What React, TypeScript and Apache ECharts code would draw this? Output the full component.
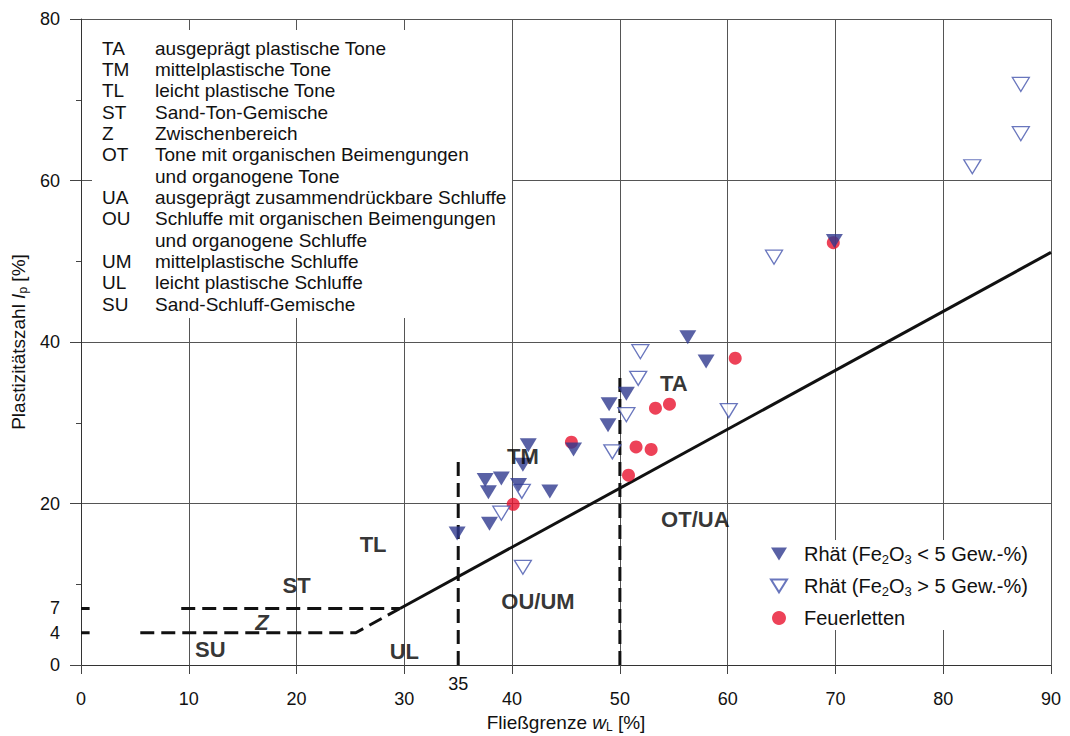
import React, { useEffect, useRef } from 'react';
import * as echarts from 'echarts';

// Axis ranges
const X_MIN = 0;
const X_MAX = 90;
const Y_MIN = 0;
const Y_MAX = 80;
const yLabelValues = [0, 4, 7, 20, 40, 60, 80];

// Series names
const LOW = 'Rhät (Fe2O3 < 5 Gew.-%)';
const HIGH = 'Rhät (Fe2O3 > 5 Gew.-%)';
const FEU = 'Feuerletten';

// Measurements [wL %, Ip %]
const rhaetLow: number[][] = [
  [34.9, 16.3], [37.5, 22.9], [37.8, 21.4], [37.9, 17.5], [39.0, 23.1],
  [40.6, 22.3], [41.0, 24.8], [41.5, 27.2], [43.5, 21.5], [45.7, 26.7],
  [48.9, 29.7], [49.0, 32.3], [50.6, 33.6], [56.3, 40.6], [58.0, 37.6],
  [69.9, 52.5],
];
const rhaetHigh: number[][] = [
  [41.0, 12.1], [39.0, 18.8], [40.9, 21.5], [49.3, 26.4], [50.6, 31.0],
  [51.7, 35.5], [51.9, 38.8], [60.1, 31.5], [64.3, 50.5], [82.7, 61.7],
  [87.2, 65.8], [87.2, 71.9],
];
const feuerletten: number[][] = [
  [40.1, 19.9], [45.5, 27.6], [50.8, 23.5], [51.5, 27.0], [52.9, 26.7],
  [53.3, 31.8], [54.6, 32.3], [60.7, 38.0], [69.8, 52.3],
];

// A-line (DIN 18196): Ip = 0.73 * (wL - 20), from Ip = 7 up to wL = 90
const aLine: number[][] = [[29.6, 7.0], [90, 51.1]];
// Boundaries of the intermediate zone Z and the wL = 35 / 50 limits
const zoneUpper: number[][] = [[9.3, 7], [29.6, 7]];
const zoneLower: number[][] = [[5.5, 4], [25.5, 4], [29.6, 7]];
const limit35: number[][] = [[35, 0], [35, 25.5]];
const limit50: number[][] = [[50, 0], [50, 36.3]];
const stub7: number[][] = [[0, 7], [0.8, 7]];
const stub4: number[][] = [[0, 4], [0.8, 4]];
const extraXTick: number[][] = [[35, 0]];

// Soil group labels placed in the chart
const zoneLabels = [
  { name: 'TA', value: [55.0, 34.9] },
  { name: 'TM', value: [41.0, 25.8] },
  { name: 'TL', value: [27.1, 14.9] },
  { name: 'ST', value: [20.0, 9.9] },
  { name: 'Z', value: [16.8, 5.3], label: { fontStyle: 'italic' } },
  { name: 'SU', value: [12.0, 1.9] },
  { name: 'UL', value: [30.0, 1.7] },
  { name: 'OU/UM', value: [42.4, 7.9] },
  { name: 'OT/UA', value: [57.0, 18.0] },
];

// Key of the soil group abbreviations
const keyCodes = ['TA', 'TM', 'TL', 'ST', 'Z', 'OT', '', 'UA', 'OU', '', 'UM', 'UL', 'SU'];
const keyTexts = [
  'ausgeprägt plastische Tone',
  'mittelplastische Tone',
  'leicht plastische Tone',
  'Sand-Ton-Gemische',
  'Zwischenbereich',
  'Tone mit organischen Beimengungen',
  'und organogene Tone',
  'ausgeprägt zusammendrückbare Schluffe',
  'Schluffe mit organischen Beimengungen',
  'und organogene Schluffe',
  'mittelplastische Schluffe',
  'leicht plastische Schluffe',
  'Sand-Schluff-Gemische',
];

const FONT = "'Liberation Sans', Arial, Helvetica, sans-serif";
const TEXT = '#111';
const NAVY = '#2f3a8e';
const BLUE_LINE = '#4454ad';
const RED = '#e8132e';
const TRI_DOWN = 'path://M0,0L20,0L10,16Z';

const legendText: Record<string, string> = {
  [LOW]: '{f|Rhät (Fe}{s|2}{n|O}{s|3}{n| < 5 Gew.-%)}',
  [HIGH]: '{f|Rhät (Fe}{s|2}{n|O}{s|3}{n| > 5 Gew.-%)}',
  [FEU]: '{f|Feuerletten}',
};

function boundary(data: number[][], dashed: boolean, width = 3) {
  return {
    type: 'line',
    data,
    symbol: 'none',
    silent: true,
    z: 3,
    lineStyle: { color: '#111', width, type: dashed ? [14, 7] : 'solid' },
  };
}

const nameRich = {
  i: { fontSize: 19, fontStyle: 'italic', color: TEXT, lineHeight: 22 },
  s: { fontSize: 12, color: TEXT, lineHeight: 12, verticalAlign: 'bottom' },
};

export default function App() {
  const ref = useRef<HTMLDivElement>(null);

  useEffect(() => {
    if (!ref.current) return;
    const chart = echarts.init(ref.current, null, { renderer: 'svg' });

    const keyElements: any[] = [
      {
        type: 'rect',
        z: 50,
        shape: { x: 92, y: 30, width: 420, height: 288 },
        style: { fill: '#fff' },
      },
    ];
    keyTexts.forEach((t, i) => {
      const y = 48 + i * 21.35;
      if (keyCodes[i]) {
        keyElements.push({
          type: 'text',
          z: 51,
          x: 102,
          y,
          style: { text: keyCodes[i], font: `19px ${FONT}`, fill: TEXT, verticalAlign: 'middle' },
        });
      }
      keyElements.push({
        type: 'text',
        z: 51,
        x: 155,
        y,
        style: { text: t, font: `19px ${FONT}`, fill: TEXT, verticalAlign: 'middle' },
      });
    });

    const option: any = {
      animation: false,
      backgroundColor: '#fff',
      textStyle: { fontFamily: FONT },
      grid: {
        left: 81,
        right: 19,
        top: 19,
        bottom: 71,
        containLabel: false,
        outerBoundsMode: 'none',
      },
      xAxis: {
        type: 'value',
        min: X_MIN,
        max: X_MAX,
        interval: 10,
        axisLine: { lineStyle: { color: '#333', width: 1 } },
        axisTick: { show: true, length: 9, lineStyle: { color: '#444' } },
        axisLabel: { fontSize: 18, color: TEXT, margin: 25 },
        splitLine: { show: true, lineStyle: { color: '#555', width: 1 } },
        name: 'Fließgrenze {i|w}{s|L} [%]',
        nameLocation: 'middle',
        nameGap: 45,
        nameTextStyle: { fontSize: 19, color: TEXT, rich: nameRich },
      },
      yAxis: {
        type: 'value',
        min: Y_MIN,
        max: Y_MAX,
        interval: 20,
        axisLine: { show: true, lineStyle: { color: '#333', width: 1 } },
        axisTick: { show: true, length: 11, lineStyle: { color: '#444' } },
        minorTick: { show: true, splitNumber: 2, length: 5, lineStyle: { color: '#444' } },
        axisLabel: { fontSize: 18, color: TEXT, margin: 21, customValues: yLabelValues },
        splitLine: { show: true, lineStyle: { color: '#555', width: 1 } },
        name: 'Plastizitätszahl {i|I}{s|p} [%]',
        nameLocation: 'middle',
        nameGap: 50,
        nameRotate: 90,
        nameTextStyle: { fontSize: 19, color: TEXT, rich: nameRich },
      },
      legend: {
        orient: 'vertical',
        left: 762,
        top: 540,
        itemWidth: 16,
        itemHeight: 14,
        itemGap: 10,
        padding: [4, 10, 2, 8],
        backgroundColor: '#fff',
        selectedMode: false,
        data: [
          { name: LOW, icon: TRI_DOWN },
          { name: HIGH, icon: TRI_DOWN },
          { name: FEU, icon: 'circle' },
        ],
        formatter: (name: string) => legendText[name] || name,
        textStyle: {
          rich: {
            f: { fontSize: 20, lineHeight: 24, color: TEXT, padding: [0, 0, 0, 12] },
            n: { fontSize: 20, lineHeight: 24, color: TEXT },
            s: { fontSize: 13, lineHeight: 13, color: TEXT, verticalAlign: 'bottom' },
          },
        },
      },
      graphic: keyElements,
      series: [
        boundary(aLine, false, 3),
        boundary(zoneUpper, true),
        boundary(zoneLower, true),
        boundary(limit35, true),
        boundary(limit50, true),
        boundary(stub7, false, 3),
        boundary(stub4, false, 3),
        {
          type: 'scatter',
          name: FEU,
          data: feuerletten,
          symbol: 'circle',
          symbolSize: 13,
          z: 4,
          itemStyle: { color: RED },
        },
        {
          type: 'scatter',
          name: HIGH,
          data: rhaetHigh,
          symbol: TRI_DOWN,
          symbolSize: [17, 14],
          z: 5,
          itemStyle: { color: '#fff', borderColor: BLUE_LINE, borderWidth: 1.3 },
        },
        {
          type: 'scatter',
          name: LOW,
          data: rhaetLow,
          symbol: TRI_DOWN,
          symbolSize: [17, 14],
          z: 6,
          itemStyle: { color: NAVY },
        },
        {
          type: 'scatter',
          name: 'zones',
          data: zoneLabels,
          symbolSize: 1,
          silent: true,
          z: 7,
          itemStyle: { color: 'rgba(0,0,0,0)' },
          label: {
            show: true,
            position: 'inside',
            formatter: '{b}',
            fontSize: 22,
            fontWeight: 'bold',
            color: '#000',
            textBorderWidth: 0,
          },
        },
        {
          type: 'scatter',
          name: 'tick35',
          data: extraXTick,
          symbolSize: 1,
          silent: true,
          clip: false,
          z: 7,
          itemStyle: { color: 'rgba(0,0,0,0)' },
          label: {
            show: true,
            position: 'bottom',
            distance: 9,
            formatter: '35',
            fontSize: 18,
            color: '#111',
            opacity: 1,
            textBorderWidth: 0,
          },
        },
      ],
    };

    chart.setOption(option);
    return () => chart.dispose();
  }, []);

  return (
    <div
      ref={ref}
      style={{ position: 'fixed', left: 0, top: 0, width: 1070, height: 736, background: '#fff' }}
    />
  );
}
